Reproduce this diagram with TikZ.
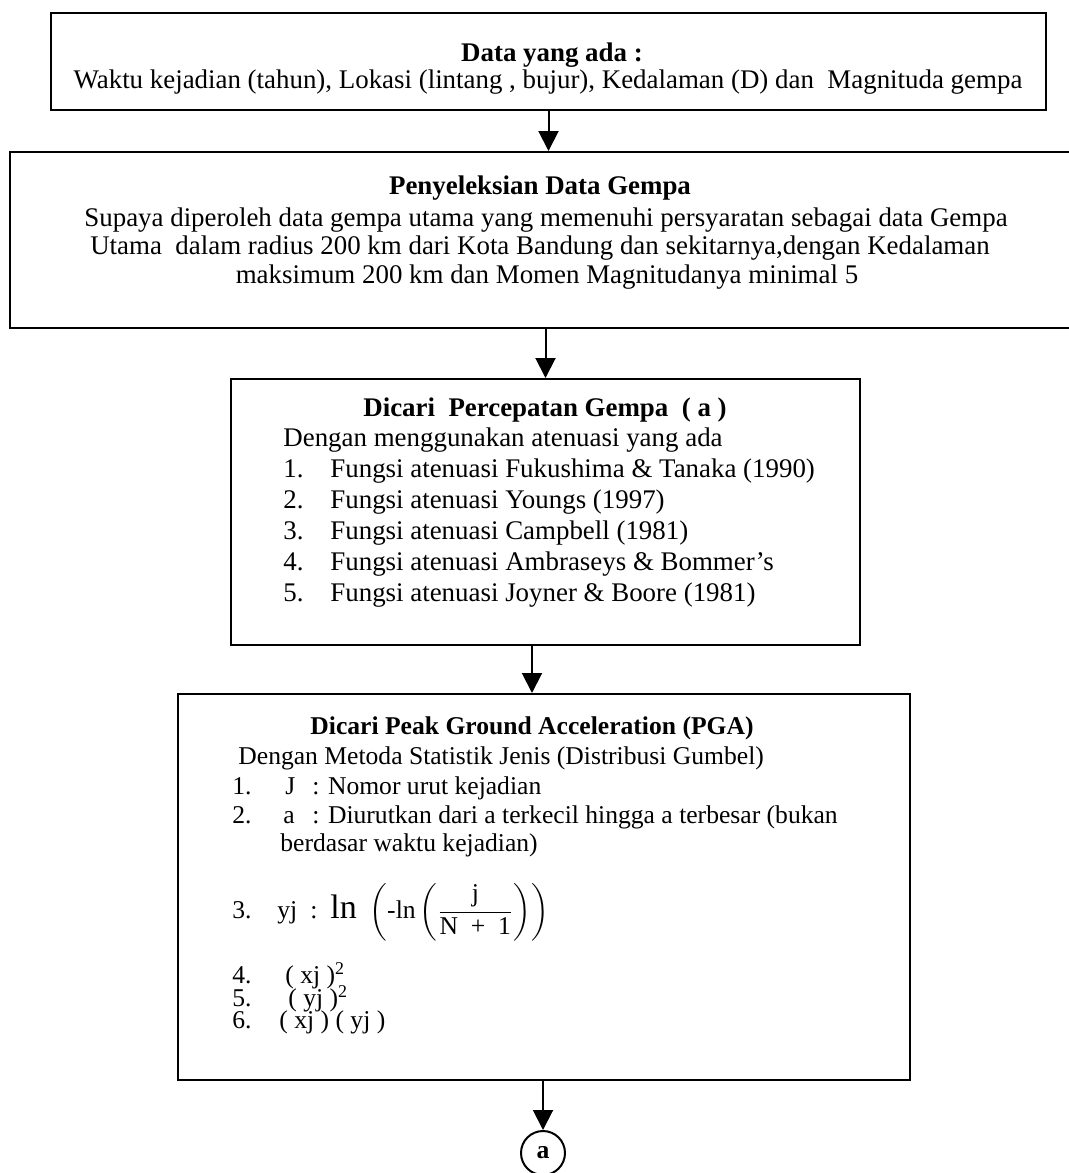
\documentclass[tikz,border=0pt]{standalone}
\usepackage{amsmath}
\usepackage{fontspec}
\setmainfont{Liberation Serif}
\usetikzlibrary{arrows.meta,fit}
\newcommand{\besar}{\fontsize{13.45}{15}\selectfont}
\newcommand{\ukuran}{\fontsize{12.8}{15}\selectfont}
\tikzset{
	kotak/.style={draw,line width=1pt,inner sep=0pt},
	judul/.style={font=\besar\bfseries,anchor=base,inner sep=0pt},
	tengah/.style={anchor=base,inner sep=0pt},
	isi/.style={anchor=base west,inner sep=0pt},
	panah/.style={line width=1pt,-{Triangle[length=10pt,width=10pt]}},
	bulat/.style={draw,circle,line width=1pt,minimum size=22pt,inner sep=0pt,font=\ukuran\bfseries}
}

\begin{document}
\begin{tikzpicture}[x=0.5pt,y=-0.5pt,every node/.style={font=\besar}]
	\useasboundingbox (0,0) rectangle (1069,1173);

	\node [kotak,fit={(51,13) (1046,110)}] (data) {};
	\node [judul] (data-j) at (552,61) {Data yang ada :};
	\node [tengah] (data-t) at (548,88) {Waktu kejadian (tahun), Lokasi (lintang , bujur), Kedalaman (D) dan\ \ Magnituda gempa};

	\node [kotak,fit={(10,152) (1080,328)}] (seleksi) {};
	\node [judul] (seleksi-j) at (540,194) {Penyeleksian Data Gempa};
	\node [tengah] (seleksi-1) at (546,226) {Supaya diperoleh data gempa utama yang memenuhi persyaratan sebagai data Gempa};
	\node [tengah] (seleksi-2) at (540,254) {Utama\ \ dalam radius 200 km dari Kota Bandung dan sekitarnya,dengan Kedalaman};
	\node [tengah] (seleksi-3) at (547,283) {maksimum 200 km dan Momen Magnitudanya minimal 5};

	\node [kotak,fit={(231,379) (860,645)}] (percepatan) {};
	\node [judul] (percepatan-j) at (545,416) {Dicari\ \ Percepatan Gempa\ \ ( a )};
	\node [isi] (percepatan-t) at (283,446) {Dengan menggunakan atenuasi yang ada};
	\foreach \teks [count=\i] in {Fukushima \& Tanaka (1990),Youngs (1997),Campbell (1981),Ambraseys \& Bommer's,Joyner \& Boore (1981)}{
		\node [isi] (fungsi-n\i) at (283,{446+31*\i}) {\i.};
		\node [isi] (fungsi-\i) at (330,{446+31*\i}) {Fungsi atenuasi \teks};
	}

	\node [kotak,fit={(178,694) (910,1080)}] (pga) {};
	\node [judul,font=\ukuran\bfseries] (pga-j) at (532,734) {Dicari Peak Ground Acceleration (PGA)};
	\node [isi,font=\ukuran] (pga-t) at (238,764) {Dengan Metoda Statistik Jenis (Distribusi Gumbel)};
	\node [isi,font=\ukuran] (pga-n1) at (232,794) {1.};
	\node [isi,font=\ukuran] (pga-1) at (285,794) {\makebox[13.5pt][l]{J}: Nomor urut kejadian};
	\node [isi,font=\ukuran] (pga-n2) at (232,823) {2.};
	\node [isi,font=\ukuran] (pga-2) at (283,823) {\makebox[14.5pt][l]{a}: Diurutkan dari a terkecil hingga a terbesar (bukan};
	\node [isi,font=\ukuran] (pga-2b) at (280,851) {berdasar waktu kejadian)};
	\node [isi,font=\ukuran] (pga-n3) at (232,918) {3.};
	\node [isi,font=\ukuran] (pga-3) at (277,918) {\makebox[16.5pt][l]{yj}:\ \ {\fontsize{17}{17}\selectfont ln}\ \ $\left(\text{-ln}\left(\dfrac{\text{j}}{\text{N\ \ +\ \ 1}}\right)\right)$};
	\node [isi,font=\ukuran] (pga-n4) at (232,983) {4.};
	\node [isi,font=\ukuran] (pga-4) at (285,983) {( xj )\textsuperscript{2}};
	\node [isi,font=\ukuran] (pga-n5) at (232,1006) {5.};
	\node [isi,font=\ukuran] (pga-5) at (288,1006) {( yj )\textsuperscript{2}};
	\node [isi,font=\ukuran] (pga-n6) at (232,1028) {6.};
	\node [isi,font=\ukuran] (pga-6) at (279,1028) {( xj ) ( yj )};

	\node [bulat] (a) at (543,1153) {a};

	\draw [panah] (data.south) -- (seleksi.north -| data.south);
	\draw [panah] (seleksi.south -| percepatan.north) -- (percepatan.north);
	\draw [panah] (percepatan.south -| pga-j.base) -- (pga.north -| pga-j.base);
	\draw [panah] (pga.south -| a.north) -- (a.north);
\end{tikzpicture}
\end{document}
